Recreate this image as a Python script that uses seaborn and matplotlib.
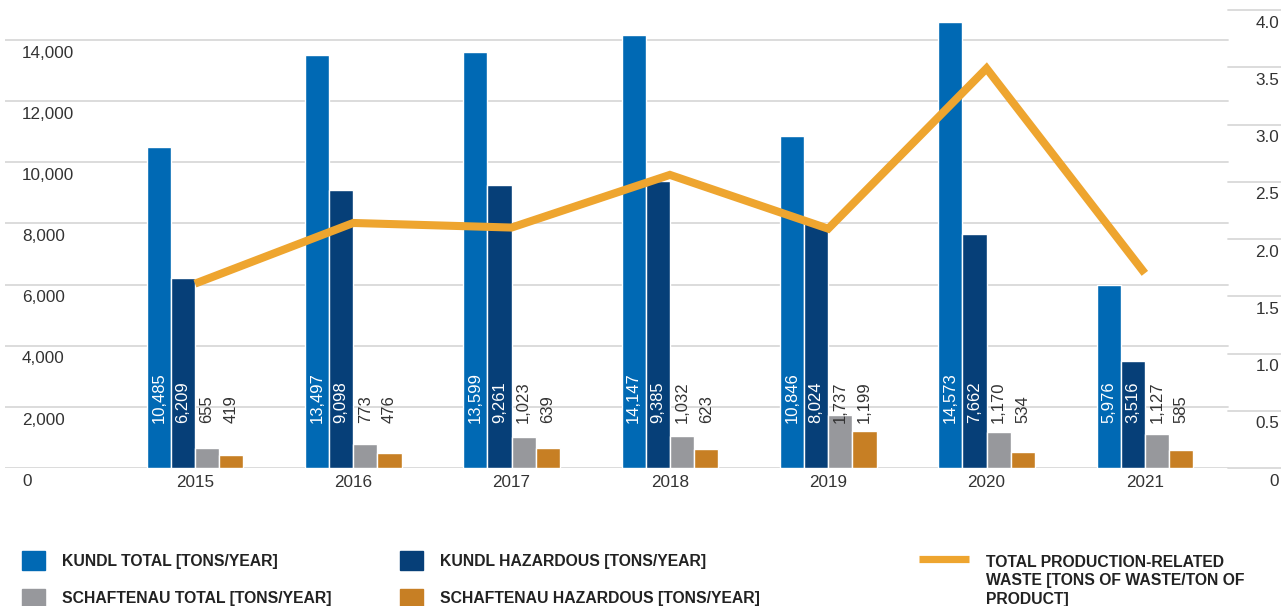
import numpy as np
import pandas as pd
import matplotlib
matplotlib.use("Agg")
import matplotlib.pyplot as plt
from matplotlib.patches import Patch
from matplotlib.lines import Line2D
import seaborn as sns

# -------------------
# Data
years = ["2015", "2016", "2017", "2018", "2019", "2020", "2021"]
kundl_total = [10485, 13497, 13599, 14147, 10846, 14573, 5976]
kundl_hazardous = [6209, 9098, 9261, 9385, 8024, 7662, 3516]
schaftenau_total = [655, 773, 1023, 1032, 1737, 1170, 1127]
schaftenau_hazardous = [419, 476, 639, 623, 1199, 534, 585]
waste_per_product = [1.61, 2.14, 2.10, 2.56, 2.09, 3.49, 1.70]

series_names = ["KUNDL TOTAL [TONS/YEAR]", "KUNDL HAZARDOUS [TONS/YEAR]",
                "SCHAFTENAU TOTAL [TONS/YEAR]", "SCHAFTENAU HAZARDOUS [TONS/YEAR]"]
line_name = "TOTAL PRODUCTION-RELATED\nWASTE [TONS OF WASTE/TON OF\nPRODUCT]"

left_ticks = [0, 2000, 4000, 6000, 8000, 10000, 12000, 14000]
right_ticks = [0, 0.5, 1.0, 1.5, 2.0, 2.5, 3.0, 3.5, 4.0]
right_tick_labels = ["0", "0.5", "1.0", "1.5", "2.0", "2.5", "3.0", "3.5", "4.0"]

colors = ["#0069b4", "#063f78", "#97989c", "#c77f24"]
line_color = "#eea52f"
text_color = "#333333"
grid_color = "#d9d9d9"

# -------------------
# Long table for seaborn
all_series = [kundl_total, kundl_hazardous, schaftenau_total, schaftenau_hazardous]
df = pd.concat([pd.DataFrame({"year": years, "series": name, "value": vals})
                for name, vals in zip(series_names, all_series)], ignore_index=True)

sns.set_style("white")
plt.rcParams["font.family"] = ["Liberation Sans", "DejaVu Sans"]

fig = plt.figure(figsize=(12.81, 6.06), dpi=100)
ax = fig.add_axes([5 / 1281, 1 - 468 / 606, 1276 / 1281, 458 / 606])

sns.barplot(data=df, x="year", y="value", hue="series", hue_order=series_names,
            palette=colors, saturation=1, width=0.61, ax=ax, legend=False, zorder=3)
ax.set_xlim(-1.2, 6.86)
ax.set_ylim(0, 14980)

ax2 = ax.twinx()
sns.lineplot(x=np.arange(len(years)), y=waste_per_product, ax=ax2, color=line_color,
             linewidth=5.8, solid_capstyle="butt", solid_joinstyle="miter", zorder=5)
ax2.set_ylim(0, 4.0)
ax2.set_xlim(-1.2, 6.86)

for a in (ax, ax2):
    sns.despine(ax=a, left=True, right=True, top=True, bottom=True)
    a.set_yticks([])
    a.set_ylabel("")
    a.set_xlabel("")

ax.set_xticks(range(len(years)))
ax.set_xticklabels(years)
ax.tick_params(axis="x", length=0, pad=5, labelsize=12.3, labelcolor=text_color)
ax2.tick_params(axis="x", length=0, labelbottom=False)

# gridlines: left scale on the left part, right scale on the far right
split = (1228 - 5) / 1276
for v in left_ticks:
    ax.axhline(v, xmin=0, xmax=split, color=grid_color, lw=1.3, zorder=0)
    ax.annotate(f"{v:,}", xy=(0.0133, v), xycoords=ax.get_yaxis_transform(),
                xytext=(0, -9.5), textcoords="offset points", ha="left", va="center",
                fontsize=12.3, color=text_color)
for v, lab in zip(right_ticks, right_tick_labels):
    ax2.axhline(v, xmin=split, xmax=1, color=grid_color, lw=1.3, zorder=0, clip_on=False)
    ax2.annotate(lab, xy=(0.9985, v), xycoords=ax2.get_yaxis_transform(),
                 xytext=(0, -9.5), textcoords="offset points", ha="right", va="center",
                 fontsize=12.3, color=text_color, annotation_clip=False)

# value labels, rotated, all starting at the same height
for i, (container, vals) in enumerate(zip(ax.containers, all_series)):
    for bar, val in zip(container, vals):
        ax.text(bar.get_x() + bar.get_width() / 2, 1470, f"{val:,}", rotation=90,
                ha="center", va="bottom", fontsize=12, zorder=4,
                color="white" if i < 2 else text_color)

# -------------------
# Legend
leg_kw = dict(loc="upper left", frameon=False, borderpad=0, borderaxespad=0,
              prop=dict(weight="bold", size=11.3), labelcolor="#222222")
fig.legend(handles=[Patch(color=colors[0]), Patch(color=colors[2])],
           labels=[series_names[0], series_names[2]],
           bbox_to_anchor=(22 / 1281, 1 - 551 / 606), handlelength=1.47, handleheight=1.5,
           handletextpad=1.08, labelspacing=1.17, **leg_kw)
fig.legend(handles=[Patch(color=colors[1]), Patch(color=colors[3])],
           labels=[series_names[1], series_names[3]],
           bbox_to_anchor=(400 / 1281, 1 - 551 / 606), handlelength=1.47, handleheight=1.5,
           handletextpad=1.08, labelspacing=1.17, **leg_kw)
line_leg = fig.legend(handles=[Line2D([], [], color=line_color, lw=5.2, solid_capstyle="butt")],
                      labels=[line_name], bbox_to_anchor=(919 / 1281, 1 - 555 / 606),
                      handlelength=3.2, handletextpad=1.05, **leg_kw)
line_leg.get_texts()[0].set_linespacing(1.28)
# put the line sample next to the first text line, as in the original
h = line_leg.legend_handles[0]
h.set_ydata(np.asarray(h.get_ydata()) + 16.0)

fig.savefig("out.png", dpi=100)
